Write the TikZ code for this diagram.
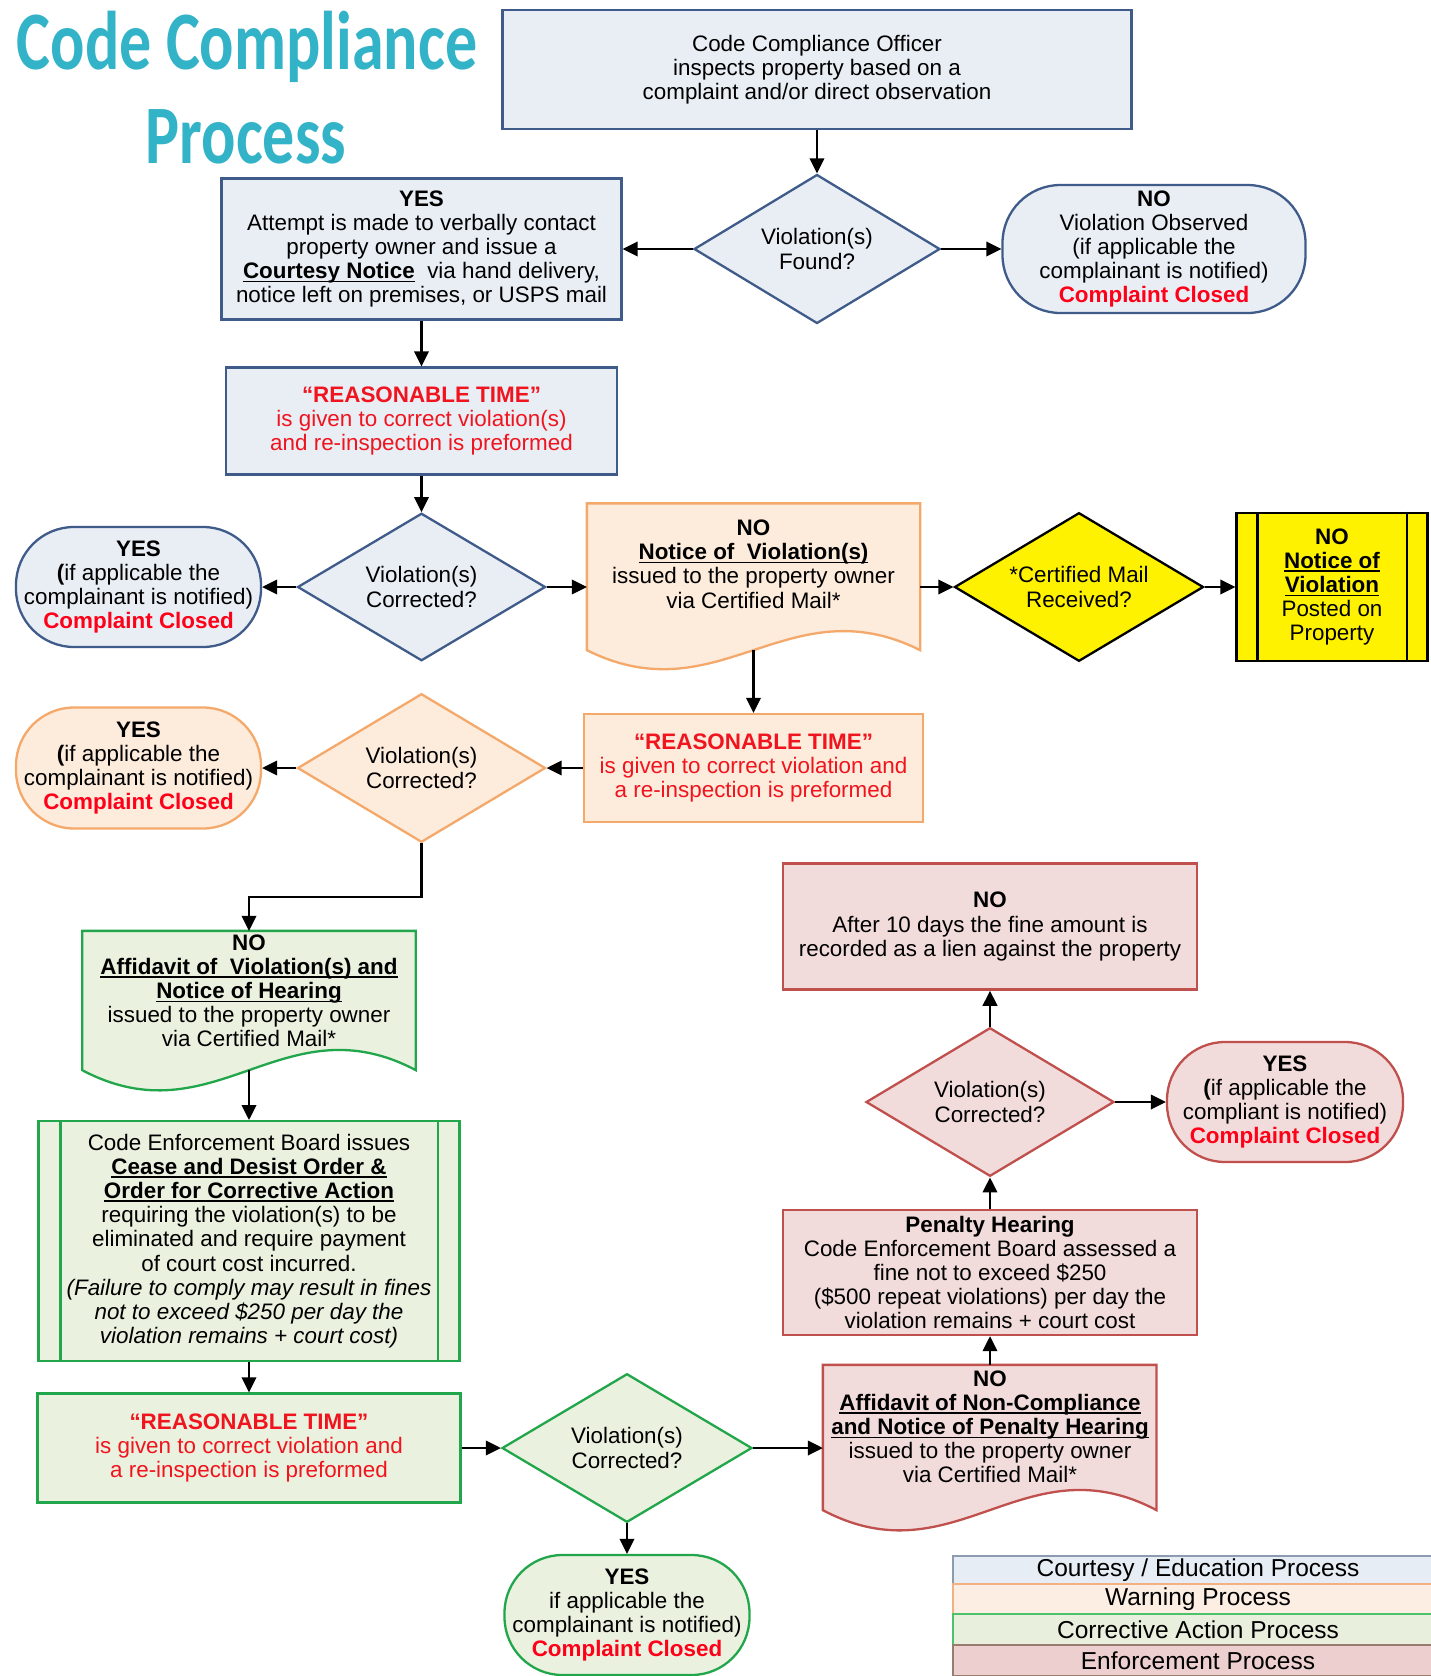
\documentclass[tikz,border=0pt]{standalone}
\usepackage{fontspec}
\setmainfont{Liberation Sans}
\newfontfamily\titlefont{Carlito}
\usetikzlibrary{shapes.geometric,arrows.meta,backgrounds}

\definecolor{bfill}{HTML}{E9EEF5}
\definecolor{bline}{HTML}{3F5B8A}
\definecolor{ofill}{HTML}{FDEBDC}
\definecolor{oline}{HTML}{F4A86A}
\definecolor{gfill}{HTML}{EBF1DF}
\definecolor{gline}{HTML}{22A64B}
\definecolor{rfill}{HTML}{F2DCDB}
\definecolor{rline}{HTML}{C0504D}
\definecolor{ttl}{HTML}{33B3C7}
\definecolor{rtext}{HTML}{F0141E}
\definecolor{ccred}{HTML}{FF0019}
\definecolor{lgbf}{HTML}{E7EDF5}
\definecolor{lgbl}{HTML}{8D9BB0}
\definecolor{lgof}{HTML}{FDEEE3}
\definecolor{lgol}{HTML}{F3B183}
\definecolor{lggf}{HTML}{E9EFDD}
\definecolor{lggl}{HTML}{4CC36B}
\definecolor{lgrf}{HTML}{EDCFCF}
\definecolor{lgrl}{HTML}{9A7B6F}

\newcommand{\cclosed}{\textcolor{ccred}{\textbf{Complaint Closed}}}
\newsavebox{\ulinebox}
\newcommand{\ubf}[1]{\sbox{\ulinebox}{\textbf{#1}}\rlap{\rule[-3.6pt]{\wd\ulinebox}{1.6pt}}\usebox{\ulinebox}}

\tikzset{
  base/.style={font=\fontsize{22.4}{24.2}\selectfont, align=center, inner sep=0pt, line width=2.3pt},
  boxb/.style={base, rectangle, draw=bline, fill=bfill},
  termb/.style={base, rectangle, rounded corners=58pt, draw=bline, fill=bfill},
  diab/.style={base, diamond, aspect=1.68, draw=bline, fill=bfill},
  boxo/.style={base, rectangle, draw=oline, fill=ofill},
  termo/.style={base, rectangle, rounded corners=58pt, draw=oline, fill=ofill},
  diao/.style={base, diamond, aspect=1.68, draw=oline, fill=ofill},
  boxg/.style={base, rectangle, draw=gline, fill=gfill},
  termg/.style={base, rectangle, rounded corners=58pt, draw=gline, fill=gfill},
  diag/.style={base, diamond, aspect=1.68, draw=gline, fill=gfill},
  boxr/.style={base, rectangle, draw=rline, fill=rfill},
  termr/.style={base, rectangle, rounded corners=58pt, draw=rline, fill=rfill},
  diar/.style={base, diamond, aspect=1.68, draw=rline, fill=rfill},
  boxy/.style={base, rectangle, draw=black, fill=yellow},
  diay/.style={base, diamond, aspect=1.68, draw=black, fill=yellow},
  docframe/.style={base, rectangle, draw=none, fill=none},
  doctext/.style={base, draw=none, fill=none},
  titlestyle/.style={font=\titlefont\bfseries\fontsize{64}{64}\selectfont, text=ttl, anchor=base, inner sep=0pt},
  legrow/.style={font=\fontsize{24.5}{26}\selectfont, rectangle, inner sep=0pt, minimum width=490pt, line width=1.3pt},
  arr/.style={line width=2.2pt, -{Triangle[length=15pt,width=14.5pt]}},
  inline/.style={line width=2.3pt},
}

\begin{document}
\begin{tikzpicture}[x=1pt,y=-1pt]
\useasboundingbox (0,0) rectangle (1430,1676);

% title
\node[titlestyle] (t1) at (247,69.5) {\scalebox{1}[1.3]{Code Compliance}};
\node[titlestyle] (t2) at (246,163.5) {\scalebox{1}[1.3]{Process}};

% courtesy stage
\node[boxb, minimum width=629pt, minimum height=119pt] (off) at (817,69.5)
  {Code Compliance Officer\\inspects property based on a\\complaint and/or direct observation};
\node[diab, minimum width=246pt, minimum height=149pt] (found) at (817,249) {Violation(s)\\Found?};
\node[boxb, minimum width=400pt, minimum height=141pt] (cour) at (421.5,249)
  {\textbf{YES}\\Attempt is made to verbally contact\\property owner and issue a\\\ubf{Courtesy Notice}\ \ via hand delivery,\\notice left on premises, or USPS mail};
\node[termb, minimum width=303pt, minimum height=128pt] (not) at (1154,249)
  {\textbf{NO}\\Violation Observed\\(if applicable the\\complainant is notified)\\\cclosed};
\node[boxb, text=rtext, minimum width=391pt, minimum height=107pt] (rt1) at (421.5,421)
  {\textbf{“REASONABLE TIME”}\\is given to correct violation(s)\\and re-inspection is preformed};
\node[diab, minimum width=248pt, minimum height=147.5pt] (d1) at (421.5,587) {Violation(s)\\Corrected?};
\node[termb, minimum width=245pt, minimum height=120pt] (yes1) at (138.5,587)
  {\textbf{YES}\\\textbf{(}if applicable the\\complainant is notified)\\\cclosed};

% warning stage
\node[docframe, minimum width=331pt, minimum height=144.5pt] (odoc) at (753.5,576.75) {};
\node[doctext] (odoct) at (753.5,564)
  {\textbf{NO}\\\ubf{Notice of\ \ Violation(s)}\\issued to the property owner\\via Certified Mail*};
\node[diay, minimum width=249pt, minimum height=148.6pt] (ydia) at (1079,587) {*Certified Mail\\Received?};
\node[boxy, minimum width=191pt, minimum height=148.6pt] (ybox) at (1332,587)
  {\textbf{NO}\\\ubf{Notice of}\\\ubf{Violation}\\Posted on\\Property};
\node[boxo, text=rtext, minimum width=339pt, minimum height=108pt] (rt2) at (753.5,768)
  {\textbf{“REASONABLE TIME”}\\is given to correct violation and\\a re-inspection is preformed};
\node[diao, minimum width=248pt, minimum height=148.6pt] (d2) at (421.5,768) {Violation(s)\\Corrected?};
\node[termo, minimum width=245pt, minimum height=121pt] (yes2) at (138.5,768)
  {\textbf{YES}\\\textbf{(}if applicable the\\complainant is notified)\\\cclosed};

% corrective stage
\node[docframe, minimum width=331.3pt, minimum height=137pt] (gdoc) at (249,1000.5) {};
\node[doctext] (gdoct) at (249,990.8)
  {\textbf{NO}\\\ubf{Affidavit of\ \ Violation(s) and}\\\ubf{Notice of Hearing}\\issued to the property owner\\via Certified Mail*};
\node[boxg, minimum width=421pt, minimum height=239.6pt] (ceb) at (249,1241)
  {Code Enforcement Board issues\\\ubf{Cease and Desist Order \&}\\\ubf{Order for Corrective Action}\\requiring the violation(s) to be\\eliminated and require payment\\of court cost incurred.\\\textit{(Failure to comply may result in fines}\\\textit{not to exceed \$250 per day the}\\\textit{violation remains + court cost)}};
\node[boxg, text=rtext, minimum width=423pt, minimum height=109pt] (rt3) at (249,1448)
  {\textbf{“REASONABLE TIME”}\\is given to correct violation and\\a re-inspection is preformed};
\node[diag, minimum width=250pt, minimum height=148.6pt] (gd) at (627,1448) {Violation(s)\\Corrected?};
\node[termg, minimum width=245pt, minimum height=120pt] (gyes) at (627,1615)
  {\textbf{YES}\\if applicable the\\complainant is notified)\\\cclosed};

% enforcement stage
\node[docframe, minimum width=331.4pt, minimum height=143pt] (rdoc) at (989.7,1437.5) {};
\node[doctext] (rdoct) at (990,1426.8)
  {\textbf{NO}\\\ubf{Affidavit of Non-Compliance}\\\ubf{and Notice of Penalty Hearing}\\issued to the property owner\\via Certified Mail*};
\node[boxr, minimum width=413.6pt, minimum height=125pt] (pen) at (990,1272.5)
  {\textbf{Penalty Hearing}\\Code Enforcement Board assessed a\\fine not to exceed \$250\\(\$500 repeat violations) per day the\\violation remains + court cost};
\node[diar, minimum width=248pt, minimum height=148.6pt] (rd) at (990,1102) {Violation(s)\\Corrected?};
\node[boxr, minimum width=414.6pt, minimum height=126pt] (rno) at (990,926.6)
  {\textbf{NO}\\After 10 days the fine amount is\\recorded as a lien against the property};
\node[termr, minimum width=236pt, minimum height=120pt] (ryes) at (1285,1102)
  {\textbf{YES}\\\textbf{(}if applicable the\\compliant is notified)\\\cclosed};

% document shapes and background
\begin{scope}[on background layer]
\fill[white] (0,0) rectangle (1430,1676);
\draw[line width=2.3pt, draw=oline, fill=ofill] (odoc.north west) -- (odoc.south west)
  .. controls +(132.4,66) and +(-132.4,-66) .. (odoc.south east) -- (odoc.north east) -- cycle;
\draw[line width=2.3pt, draw=gline, fill=gfill] (gdoc.north west) -- (gdoc.south west)
  .. controls +(132.5,70) and +(-132.5,-70) .. (gdoc.south east) -- (gdoc.north east) -- cycle;
\draw[line width=2.3pt, draw=rline, fill=rfill] (rdoc.north west) -- (rdoc.south west)
  .. controls +(132.5,70) and +(-132.5,-70) .. (rdoc.south east) -- (rdoc.north east) -- cycle;
\end{scope}

% inner lines of predefined-process boxes
\draw[inline, draw=black] ([xshift=22pt]ybox.north west) -- ([xshift=22pt]ybox.south west);
\draw[inline, draw=black] ([xshift=-22pt]ybox.north east) -- ([xshift=-22pt]ybox.south east);
\draw[inline, draw=gline] ([xshift=23pt]ceb.north west) -- ([xshift=23pt]ceb.south west);
\draw[inline, draw=gline] ([xshift=-23pt]ceb.north east) -- ([xshift=-23pt]ceb.south east);

% connectors
\draw[arr] (off) -- (found);
\draw[arr] (found) -- (cour);
\draw[arr] (found) -- (not);
\draw[arr] (cour) -- (rt1);
\draw[arr] (rt1) -- (d1);
\draw[arr] (d1) -- (yes1);
\draw[arr] (d1.east) -- (d1.east -| odoc.west);
\draw[arr] (d1.east -| odoc.east) -- (ydia.west);
\draw[arr] (ydia) -- (ybox);
\draw[arr] (odoc.south) -- (rt2.north);
\draw[arr] (rt2) -- (d2);
\draw[arr] (d2) -- (yes2);
\draw[arr] (d2.south) -- ++(0,53.6) -| (gdoc.north);
\draw[arr] (gdoc.south) -- (ceb.north);
\draw[arr] (ceb) -- (rt3);
\draw[arr] (rt3) -- (gd);
\draw[arr] (gd) -- (gyes);
\draw[arr] (gd.east) -- (gd.east -| rdoc.west);
\draw[arr] (rdoc.north -| pen.south) -- (pen.south);
\draw[arr] (pen) -- (rd);
\draw[arr] (rd) -- (ryes);
\draw[arr] (rd) -- (rno);

% legend (rows run past the right edge, as in the reference)
\node[legrow, fill=lgbf, draw=lgbl, minimum height=28pt] (lg1) at (1198,1570) {Courtesy / Education Process};
\node[legrow, fill=lgof, draw=lgol, minimum height=30pt] (lg2) at (1198,1599) {Warning Process};
\node[legrow, fill=lggf, draw=lggl, minimum height=31pt] (lg3) at (1198,1629.5) {Corrective Action Process};
\node[legrow, fill=lgrf, draw=lgrl, minimum height=31pt] (lg4) at (1198,1660.5) {Enforcement Process};
\end{tikzpicture}
\end{document}
